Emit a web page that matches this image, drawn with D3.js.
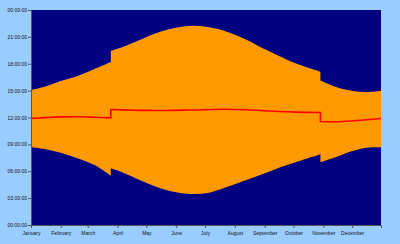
<!DOCTYPE html>
<html lang="en">
<head>
    <meta charset="UTF-8">
    <title>Daylight</title>
    <script src="https://d3js.org/d3.v7.min.js"></script>
    <style>
        body {
            margin: 0;
            background: #99ccff;
        }
        .axis text {
            font-family: "Liberation Sans", Arial, sans-serif;
            font-size: 5px;
            fill: #111;
        }
        .axis path, .axis line {
            stroke: #555;
        }
    </style>
</head>
<body>
    <div class="chart"></div>

    <script>
        // a date appearing twice marks a clock change (standard <-> summer time)
        const dates = [
            '2010-01-01', '2010-01-15', '2010-02-01', '2010-02-19', '2010-03-08', '2010-03-25',
            '2010-03-25', '2010-04-07', '2010-04-24', '2010-05-11', '2010-05-29', '2010-06-15',
            '2010-07-02', '2010-07-20', '2010-08-13', '2010-08-30', '2010-09-16', '2010-10-03', '2010-10-29',
            '2010-10-29', '2010-11-15', '2010-12-02', '2010-12-16', '2010-12-31'
        ];
        const sunrise = [
            '08:41', '08:29', '08:04', '07:26', '06:42', '05:30',
            '06:20', '05:50', '05:01', '04:17', '03:43', '03:28',
            '03:32', '04:06', '05:01', '05:41', '06:24', '07:00', '07:54',
            '07:00', '07:37', '08:17', '08:38', '08:41'
        ];
        const sunset = [
            '15:04', '15:26', '16:04', '16:40', '17:25', '18:12',
            '19:26', '19:54', '20:39', '21:24', '21:57', '22:13',
            '22:08', '21:42', '20:40', '19:43', '18:52', '18:03', '17:06',
            '16:07', '15:22', '14:58', '14:51', '15:00'
        ];
        const noon = [
            '11:54', '11:59', '12:04', '12:05', '12:02', '11:58',
            '12:53', '12:51', '12:48', '12:47', '12:48', '12:50',
            '12:52', '12:55', '12:52', '12:46', '12:40', '12:36', '12:33',
            '11:33', '11:32', '11:38', '11:45', '11:53'
        ];
        const yTicks = [0, 3, 6, 9, 12, 15, 18, 21, 24];

        const svgWidth = 400;
        const svgHeight = 244;
        const margin = { top: 10, right: 19, bottom: 19, left: 31 };
        const width = svgWidth - margin.left - margin.right;
        const height = svgHeight - margin.top - margin.bottom;

        const parseDate = d3.timeParse('%Y-%m-%d');
        const hours = s => { const p = s.split(':'); return +p[0] + p[1] / 60; };

        const rows = dates.map((d, i) => ({
            date: parseDate(d),
            rise: hours(sunrise[i]),
            set: hours(sunset[i]),
            noon: hours(noon[i])
        }));

        // split into runs at the clock changes
        const segs = [];
        rows.forEach((r, i) => {
            if (i === 0 || dates[i] === dates[i - 1]) segs.push([]);
            segs[segs.length - 1].push(r);
        });

        const svg = d3.select('.chart')
            .append('svg')
            .attr('width', svgWidth)
            .attr('height', svgHeight)
            .append('g')
            .attr('transform', `translate(${margin.left},${margin.top})`);

        const xScale = d3.scaleTime()
            .domain([parseDate('2010-01-01'), parseDate('2010-12-31')])
            .range([0, width]);

        const yScale = d3.scaleLinear()
            .domain([0, 24])
            .range([height, 0]);

        svg.append('rect')
            .attr('width', width)
            .attr('height', height)
            .attr('fill', '#000080');

        const lineOf = key => d3.line()
            .x(d => xScale(d.date))
            .y(d => yScale(d[key]))
            .curve(d3.curveCatmullRom.alpha(0.5));

        // glue the runs together into one path, vertical steps at the changes
        const joined = parts => parts[0] + parts.slice(1).map(p => 'L' + p.slice(1)).join('');

        const sunsetPath = joined(segs.map(s => lineOf('set')(s)));
        const sunrisePath = joined(segs.slice().reverse().map(s => lineOf('rise')(s.slice().reverse())));

        svg.append('path')
            .attr('d', sunsetPath + 'L' + sunrisePath.slice(1) + 'Z')
            .attr('fill', '#ff9900');

        svg.append('path')
            .attr('d', joined(segs.map(s => lineOf('noon')(s))))
            .attr('fill', 'none')
            .attr('stroke', '#ff0000')
            .attr('stroke-width', 1.6);

        svg.append('g')
            .attr('class', 'axis')
            .attr('transform', `translate(0,${height})`)
            .call(d3.axisBottom(xScale)
                .ticks(d3.timeMonth.every(1))
                .tickFormat(d3.timeFormat('%B'))
                .tickSize(3)
                .tickPadding(3));

        svg.append('g')
            .attr('class', 'axis')
            .call(d3.axisLeft(yScale)
                .tickValues(yTicks)
                .tickFormat(h => String(h % 24).padStart(2, '0') + ':00:00')
                .tickSize(3)
                .tickPadding(1));

        svg.selectAll('.axis .domain').attr('stroke', '#555');
    </script>
</body>
</html>
